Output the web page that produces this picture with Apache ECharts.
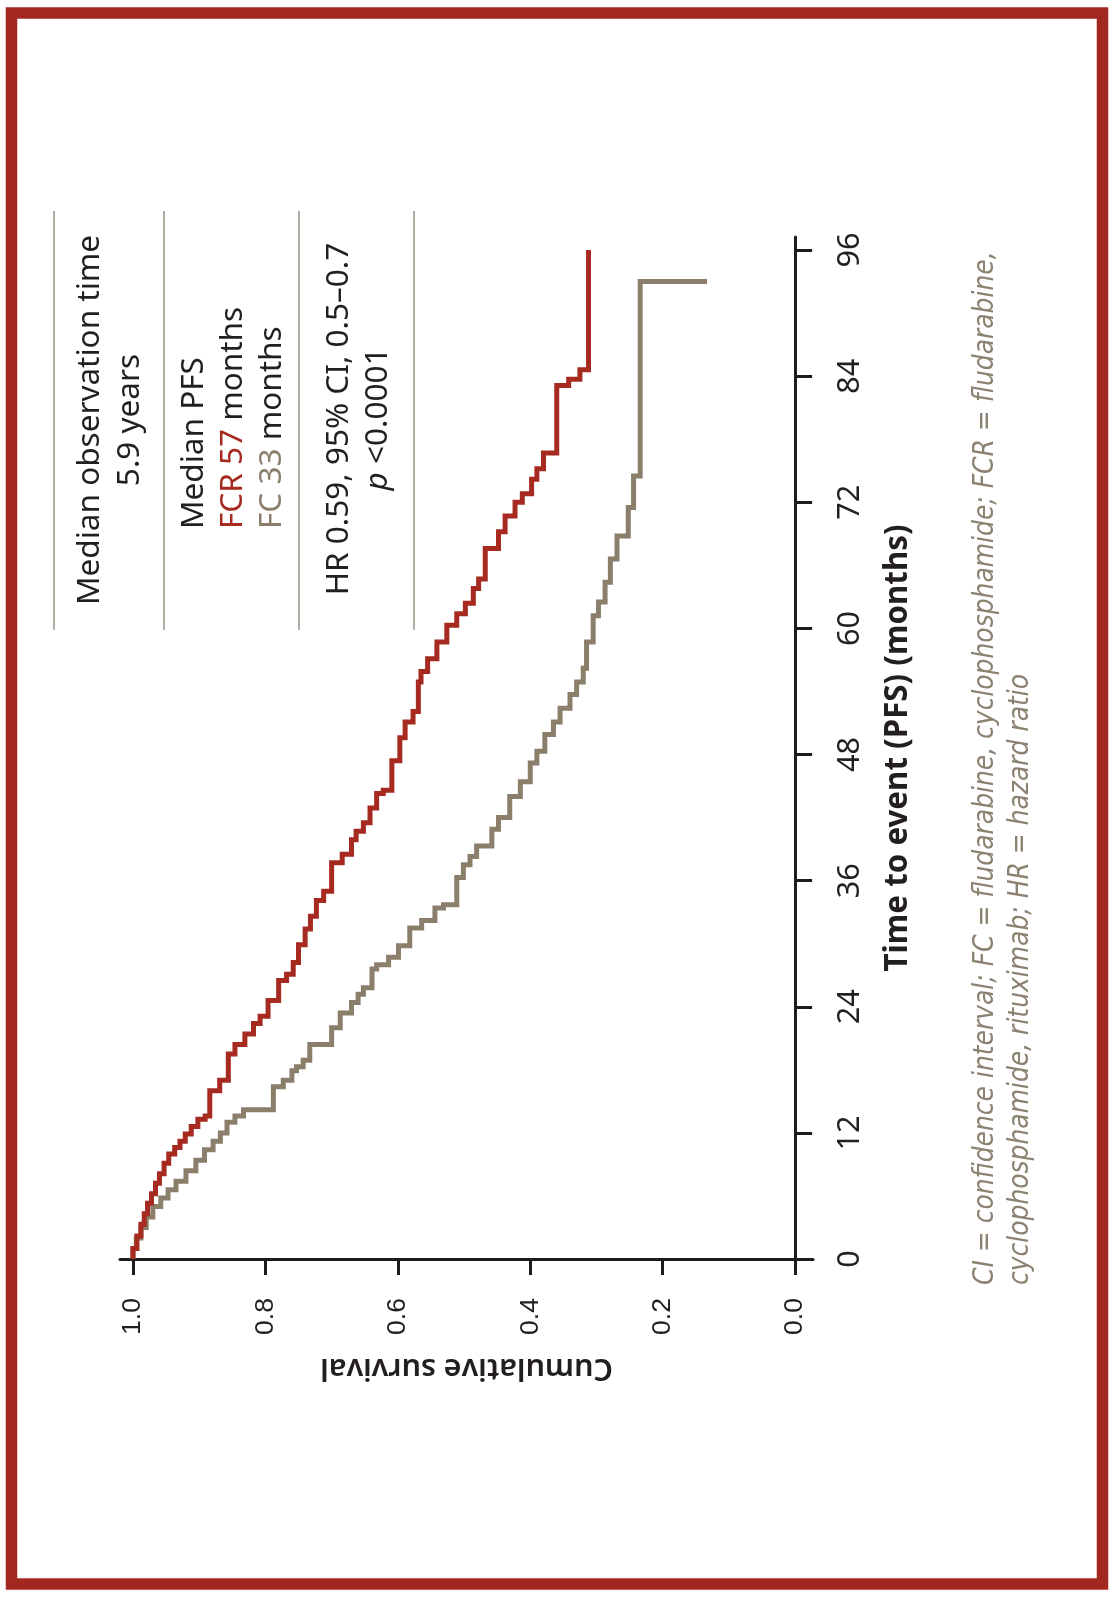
<!DOCTYPE html>
<html>
<head>
<meta charset="utf-8">
<script src="https://cdn.jsdelivr.net/npm/echarts@6/dist/echarts.min.js"></script>
<style>html,body{margin:0;padding:0;background:#fff}#c{width:1112px;height:1612px}</style>
</head>
<body>
<div id="c"></div>
<script>
// ---- data (months, cumulative survival) ----
const fcrTime = [0,1.0,2.2,3.3,4.3,5.3,6.2,7.2,8.1,9.1,10.0,10.6,11.2,11.9,12.6,13.3,13.6,16.0,17.0,19.5,20.4,21.4,22.4,23.1,24.6,26.5,27.1,28.2,29.9,31.4,32.6,34.1,35.0,37.7,38.5,39.9,40.7,41.5,42.9,44.3,44.6,47.4,49.6,51.1,52.1,54.9,55.9,57.1,58.7,60.3,61.4,62.4,63.8,64.7,67.6,69.2,70.7,72.0,72.8,74.2,75.2,76.7,83.1,83.7,84.6,96.0];
const fcrSurv = [1.000,0.994,0.988,0.983,0.978,0.972,0.966,0.960,0.953,0.946,0.937,0.929,0.921,0.912,0.902,0.891,0.884,0.869,0.856,0.846,0.831,0.818,0.808,0.796,0.780,0.768,0.758,0.750,0.740,0.732,0.723,0.712,0.700,0.684,0.670,0.663,0.652,0.642,0.632,0.622,0.609,0.597,0.589,0.577,0.569,0.565,0.555,0.541,0.526,0.511,0.498,0.486,0.478,0.468,0.448,0.438,0.423,0.412,0.398,0.390,0.380,0.360,0.342,0.325,0.312,0.312];
const fcTime = [0,1.0,2.0,3.0,4.0,5.0,5.8,6.6,7.4,8.4,9.4,10.4,11.2,12.0,13.0,13.6,14.2,16.4,17.0,17.9,18.3,18.9,20.4,22.0,23.4,24.4,25.2,25.8,27.6,28.0,28.7,29.8,31.5,32.2,33.4,33.7,36.3,37.5,38.3,39.3,40.9,42.0,44.0,45.4,47.2,48.3,49.9,51.1,52.4,53.7,54.9,56.2,58.7,61.2,62.5,64.4,66.6,68.8,71.5,74.5,93.0];
const fcSurv = [1.000,0.995,0.988,0.980,0.970,0.958,0.947,0.935,0.920,0.905,0.892,0.879,0.868,0.858,0.846,0.833,0.788,0.773,0.760,0.753,0.743,0.733,0.700,0.687,0.670,0.660,0.652,0.639,0.632,0.614,0.599,0.582,0.564,0.544,0.531,0.511,0.501,0.491,0.481,0.458,0.448,0.431,0.415,0.400,0.390,0.378,0.365,0.355,0.340,0.330,0.320,0.315,0.305,0.297,0.287,0.279,0.269,0.252,0.244,0.234,0.133];
const timeTicks = [0,12,24,36,48,60,72,84,96];
const survTicks = [0,0.2,0.4,0.6,0.8,1.0];

// ---- text ----
const txtObs = ['Median observation time', '5.9 years'];
const txtPfs = ['Median PFS', 'FCR 57', ' months', 'FC 33', ' months'];
const txtHr = ['HR 0.59, 95% CI, 0.5\u20130.7', 'p', ' <0.0001'];
const txtFoot = ['CI = confidence interval; FC = fludarabine, cyclophosphamide; FCR = fludarabine,',
                 'cyclophosphamide, rituximab; HR = hazard ratio'];
const xName = 'Time to event (PFS) (months)';
const yName = 'Cumulative survival';

// ---- style ----
const RED = '#a62a20', GRAY = '#8b7f6c', INK = '#231f20', FOOT = '#8c8272', RULE = '#b3aca2', FRAME = '#a2281f';
const SANS = "'Noto Sans', 'Open Sans', sans-serif";
const NARROW = "'Liberation Sans Narrow', 'DejaVu Sans Condensed', 'Roboto Condensed', 'Noto Sans', sans-serif";

const mctx = document.createElement('canvas').getContext('2d');
function fit(text, family, target, weight, style) {
  mctx.font = (style || 'normal') + ' ' + (weight || 'normal') + ' 100px ' + family;
  const w = mctx.measureText(text).width;
  return Math.round(1000 * target / w) / 10;
}
const fsAnn = fit(txtObs[0], SANS, 370);
const fsFoot = fit(txtFoot[0], NARROW, 1033, 'normal', 'italic');
const fsXName = fit(xName, SANS, 447, 'bold');
const fsYName = fit(yName, SANS, 293, '600');
const fsTime = fit('96', SANS, 35);
const fsSurv = fit('1.0', "'Liberation Sans', Arial, sans-serif", 37);

function rtext(x, y, text, align, rich, extra) {
  return {
    type: 'text', x: x, y: y, rotation: Math.PI / 2, silent: true,
    style: Object.assign({
      text: text, fill: INK, font: 'normal ' + fsAnn + 'px ' + SANS,
      align: align, verticalAlign: 'middle', rich: rich || {}
    }, extra || {})
  };
}

const chart = echarts.init(document.getElementById('c'), null, {renderer: 'canvas'});

const graphics = [
  {type: 'rect', silent: true, shape: {x: 11.5, y: 13, width: 1091, height: 1571},
   style: {fill: 'none', stroke: FRAME, lineWidth: 11.5}},
  {type: 'line', silent: true, shape: {x1: 54, y1: 211, x2: 54, y2: 630}, style: {stroke: RULE, lineWidth: 2}},
  {type: 'line', silent: true, shape: {x1: 164, y1: 211, x2: 164, y2: 630}, style: {stroke: RULE, lineWidth: 2}},
  {type: 'line', silent: true, shape: {x1: 299, y1: 211, x2: 299, y2: 630}, style: {stroke: RULE, lineWidth: 2}},
  {type: 'line', silent: true, shape: {x1: 414, y1: 211, x2: 414, y2: 630}, style: {stroke: RULE, lineWidth: 2}},
  rtext(90, 420, txtObs[0], 'center'),
  rtext(130, 420, txtObs[1], 'center'),
  rtext(194, 529, txtPfs[0], 'left'),
  rtext(233, 529, '{r|' + txtPfs[1] + '}' + txtPfs[2], 'left',
        {r: {fill: RED, font: 'normal ' + fsAnn + 'px ' + SANS}}),
  rtext(272, 529, '{g|' + txtPfs[3] + '}' + txtPfs[4], 'left',
        {g: {fill: GRAY, font: 'normal ' + fsAnn + 'px ' + SANS}}),
  rtext(339, 419, txtHr[0], 'center'),
  rtext(378, 419, '{i|' + txtHr[1] + '}' + txtHr[2], 'center',
        {i: {fill: INK, font: 'italic normal ' + fsAnn + 'px ' + SANS}}),
  rtext(986, 1285, txtFoot[0], 'left', null, {fill: FOOT, font: 'italic normal ' + fsFoot + 'px ' + NARROW}),
  rtext(1021, 1285, txtFoot[1], 'left', null, {fill: FOOT, font: 'italic normal ' + fsFoot + 'px ' + NARROW})
];

const option = {
  animation: false,
  backgroundColor: '#ffffff',
  grid: {left: 120, right: 299, top: 237, bottom: 353, containLabel: false},
  xAxis: {
    type: 'value', inverse: true, min: -0.027, max: 1.0196,
    position: 'bottom',
    name: yName, nameLocation: 'middle', nameRotate: 180, nameGap: 1368 - 1259 - fsYName / 2,
    nameTextStyle: {fontFamily: SANS, fontSize: fsYName, fontWeight: 600, color: INK},
    axisLine: {show: true, onZero: true, lineStyle: {color: '#1d1d1b', width: 3}},
    axisTick: {show: true, length: 16, lineStyle: {color: '#1d1d1b', width: 3}, customValues: survTicks},
    axisLabel: {show: true, rotate: 90, margin: 39, customValues: survTicks,
      formatter: v => Number(v).toFixed(1),
      fontFamily: "'Liberation Sans', Arial, sans-serif", fontSize: fsSurv, color: INK},
    splitLine: {show: false}
  },
  yAxis: {
    type: 'value', min: 0, max: 97.24, position: 'right',
    name: xName, nameLocation: 'middle', nameRotate: 90, nameGap: 880 - 795 - fsXName / 2,
    nameTextStyle: {fontFamily: SANS, fontSize: fsXName, fontWeight: 'bold', color: INK},
    axisLine: {show: true, onZero: true, lineStyle: {color: '#1d1d1b', width: 3}},
    axisTick: {show: true, length: 17, lineStyle: {color: '#1d1d1b', width: 3}, customValues: timeTicks},
    axisLabel: {show: true, rotate: 90, margin: 832 - 795 - fsTime / 2, customValues: timeTicks,
      fontFamily: SANS, fontSize: fsTime, color: INK},
    splitLine: {show: false}
  },
  series: [
    {name: 'FC', type: 'line', step: 'start', symbol: 'none', silent: true,
     data: fcTime.map((t, i) => [fcSurv[i], t]),
     lineStyle: {color: GRAY, width: 5, join: 'miter', cap: 'butt'}, z: 2},
    {name: 'FCR', type: 'line', step: 'start', symbol: 'none', silent: true,
     data: fcrTime.map((t, i) => [fcrSurv[i], t]),
     lineStyle: {color: RED, width: 5, join: 'miter', cap: 'butt'}, z: 3}
  ],
  graphic: graphics
};
chart.setOption(option);
</script>
</body>
</html>
